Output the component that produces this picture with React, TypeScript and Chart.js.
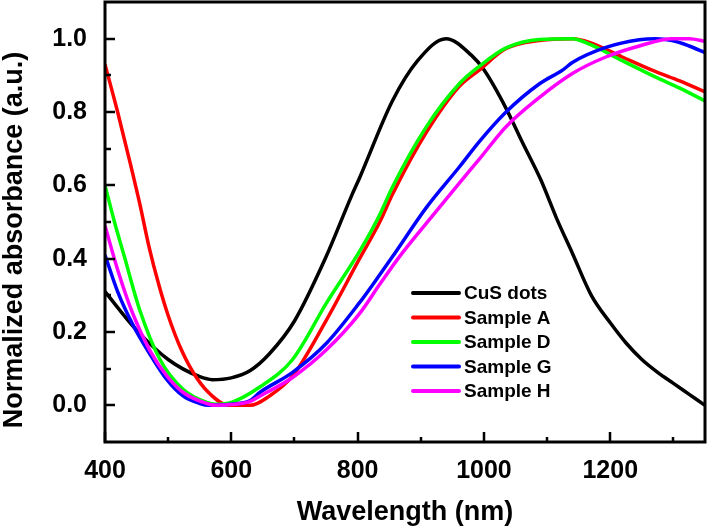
import React, { useEffect, useRef } from "react";
import { Chart, registerables } from "chart.js";

Chart.register(...registerables);

const FONT = "'Liberation Sans', Arial, Helvetica, sans-serif";

// ---- data ----
const cusWl = [400, 450, 500, 550, 570, 600, 630, 660, 700, 750, 790, 803, 855, 895, 940, 980, 1000, 1035, 1060, 1090, 1115, 1140, 1170, 1200, 1225, 1250, 1275, 1300, 1325, 1350];
const cusVal = [0.31, 0.205, 0.125, 0.078, 0.07, 0.075, 0.095, 0.14, 0.23, 0.405, 0.57, 0.62, 0.83, 0.94, 1.0, 0.955, 0.915, 0.81, 0.72, 0.615, 0.51, 0.415, 0.3, 0.225, 0.17, 0.125, 0.09, 0.06, 0.03, 0.0];

const aWl = [400, 420, 440, 455, 470, 485, 500, 520, 545, 570, 595, 630, 660, 697, 751, 803, 835, 855, 909, 961, 993, 1035, 1088, 1140, 1167, 1219, 1272, 1310, 1350];
const aVal = [0.93, 0.8, 0.66, 0.55, 0.43, 0.33, 0.245, 0.155, 0.075, 0.025, 0.0, 0.0, 0.025, 0.08, 0.234, 0.4, 0.5, 0.575, 0.745, 0.87, 0.915, 0.973, 0.995, 1.0, 0.99, 0.95, 0.91, 0.885, 0.855];

const dWl = [400, 415, 430, 455, 487, 524, 561, 575, 600, 645, 697, 751, 803, 835, 855, 909, 961, 993, 1035, 1088, 1140, 1167, 1219, 1272, 1310, 1350];
const dVal = [0.6, 0.5, 0.41, 0.26, 0.125, 0.043, 0.008, 0.003, 0.008, 0.05, 0.125, 0.28, 0.42, 0.52, 0.595, 0.76, 0.877, 0.925, 0.975, 0.998, 1.0, 0.985, 0.94, 0.895, 0.865, 0.83];

const gWl = [400, 420, 444, 471, 498, 524, 550, 565, 600, 629, 645, 697, 751, 803, 835, 855, 909, 961, 993, 1035, 1088, 1125, 1140, 1193, 1246, 1272, 1298, 1325, 1350];
const gVal = [0.41, 0.31, 0.22, 0.14, 0.07, 0.025, 0.005, 0.0, 0.003, 0.012, 0.035, 0.09, 0.17, 0.28, 0.356, 0.405, 0.54, 0.65, 0.72, 0.8, 0.877, 0.915, 0.935, 0.976, 0.997, 1.0, 0.995, 0.98, 0.962];

const hWl = [400, 420, 444, 471, 498, 524, 561, 575, 600, 629, 645, 697, 751, 803, 835, 866, 909, 961, 993, 1035, 1088, 1140, 1193, 1246, 1298, 1325, 1350];
const hVal = [0.49, 0.37, 0.25, 0.15, 0.08, 0.035, 0.005, 0.0, 0.002, 0.01, 0.025, 0.076, 0.152, 0.25, 0.33, 0.405, 0.497, 0.606, 0.672, 0.76, 0.84, 0.905, 0.95, 0.98, 1.0, 1.0, 0.993];

const seriesNames = ["CuS dots", "Sample A", "Sample D", "Sample G", "Sample H"];
const seriesColors = ["#000000", "#ff0000", "#00ff00", "#0000ff", "#ff00ff"];
const seriesWl = [cusWl, aWl, dWl, gWl, hWl];
const seriesVal = [cusVal, aVal, dVal, gVal, hVal];

const xMajorTicks = [400, 600, 800, 1000, 1200];
const xMinorTicks = [500, 700, 900, 1100, 1300];
const yMajorTicks = [0.0, 0.2, 0.4, 0.6, 0.8, 1.0];
const yMinorTicks = [0.1, 0.3, 0.5, 0.7, 0.9];

const xTitle = "Wavelength (nm)";
const yTitle = "Normalized absorbance (a.u.)";

const decorPlugin = {
  id: "decor",
  afterDatasetsDraw(chart: any) {
    const { ctx, chartArea: a, scales } = chart;
    const xs = scales.x;
    const ys = scales.y;
    ctx.save();
    ctx.strokeStyle = "#000";
    ctx.lineWidth = 2.5;
    ctx.beginPath();
    for (const v of xMajorTicks) {
      const px = Math.round(xs.getPixelForValue(v));
      ctx.moveTo(px, a.bottom);
      ctx.lineTo(px, a.bottom - 10);
    }
    for (const v of xMinorTicks) {
      const px = Math.round(xs.getPixelForValue(v));
      ctx.moveTo(px, a.bottom);
      ctx.lineTo(px, a.bottom - 5);
    }
    for (const v of yMajorTicks) {
      const py = Math.round(ys.getPixelForValue(v));
      ctx.moveTo(a.left, py);
      ctx.lineTo(a.left + 10, py);
    }
    for (const v of yMinorTicks) {
      const py = Math.round(ys.getPixelForValue(v));
      ctx.moveTo(a.left, py);
      ctx.lineTo(a.left + 6, py);
    }
    ctx.stroke();
    ctx.lineWidth = 3;
    ctx.strokeRect(a.left, a.top, a.right - a.left, a.bottom - a.top);
    ctx.restore();
  },
  afterDraw(chart: any) {
    const { ctx, chartArea: a } = chart;
    ctx.save();
    // legend
    const lx = a.left + 308;
    const ly = a.top + 291;
    ctx.font = `bold 19px ${FONT}`;
    ctx.textBaseline = "middle";
    ctx.textAlign = "left";
    seriesNames.forEach((name, i) => {
      const yy = ly + i * 24.5;
      ctx.strokeStyle = seriesColors[i];
      ctx.lineWidth = 4;
      ctx.lineCap = "round";
      ctx.beginPath();
      ctx.moveTo(lx, yy);
      ctx.lineTo(lx + 46, yy);
      ctx.stroke();
      ctx.fillStyle = "#000";
      ctx.fillText(name, lx + 51, yy + 1);
    });
    // axis titles
    ctx.fillStyle = "#000";
    ctx.font = `bold 27px ${FONT}`;
    ctx.textAlign = "center";
    ctx.textBaseline = "alphabetic";
    ctx.fillText(xTitle, (a.left + a.right) / 2, 520);
    ctx.translate(22, (a.top + a.bottom) / 2 + 18);
    ctx.rotate(-Math.PI / 2);
    ctx.fillText(yTitle, 0, 0);
    ctx.restore();
  },
};

export default function App() {
  const ref = useRef<HTMLCanvasElement>(null);
  useEffect(() => {
    if (!ref.current) return;
    const datasets = seriesNames.map((name, i) => ({
      label: name,
      data: seriesWl[i].map((w, j) => ({ x: w, y: seriesVal[i][j] })),
      borderColor: seriesColors[i],
      backgroundColor: seriesColors[i],
      borderWidth: 3.5,
      pointRadius: 0,
      cubicInterpolationMode: "monotone" as const,
      fill: false,
      order: seriesNames.length - 1 - i,
    }));
    const chart = new Chart(ref.current, {
      type: "line",
      data: { datasets },
      options: {
        animation: false,
        responsive: false,
        layout: { padding: { top: 2, right: 3, left: 0, bottom: 0 } },
        plugins: { legend: { display: false }, tooltip: { enabled: false } },
        scales: {
          x: {
            type: "linear",
            min: 400,
            max: 1350,
            grid: { display: false },
            border: { display: false },
            afterBuildTicks: (s: any) => {
              s.ticks = xMajorTicks.map((v) => ({ value: v }));
            },
            afterFit: (s: any) => {
              s.height = 84;
              s.paddingLeft = 0;
              s.paddingRight = 0;
            },
            ticks: {
              color: "#000",
              padding: 6,
              maxRotation: 0,
              autoSkip: false,
              callback: (v: any) => String(v),
              font: { family: FONT, size: 25, weight: "bold" },
            },
          },
          y: {
            type: "linear",
            min: -0.1,
            max: 1.1,
            grid: { display: false },
            border: { display: false },
            afterBuildTicks: (s: any) => {
              s.ticks = yMajorTicks.map((v) => ({ value: v }));
            },
            afterFit: (s: any) => {
              s.width = 105;
              s.paddingTop = 0;
              s.paddingBottom = 0;
            },
            ticks: {
              color: "#000",
              padding: 10,
              autoSkip: false,
              callback: (v: any) => Number(v).toFixed(1),
              font: { family: FONT, size: 25, weight: "bold" },
            },
          },
        },
      },
      plugins: [decorPlugin],
    });
    return () => chart.destroy();
  }, []);
  return (
    <div style={{ position: "absolute", left: 0, top: 0, width: 708, height: 526, background: "#fff" }}>
      <canvas ref={ref} width={708} height={526} style={{ display: "block" }} />
    </div>
  );
}
